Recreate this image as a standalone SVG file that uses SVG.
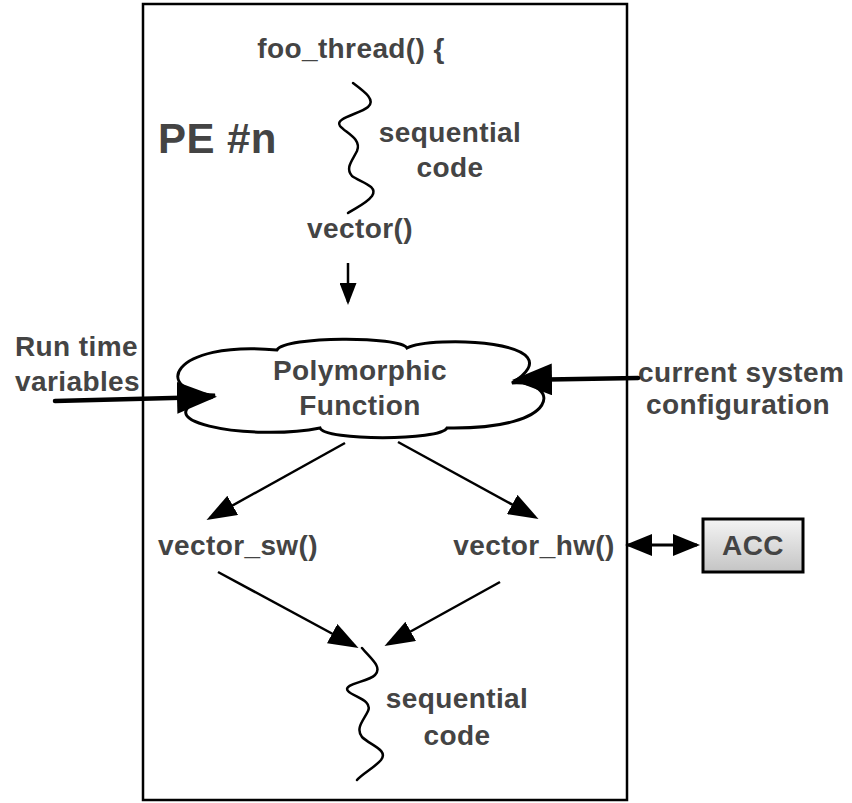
<svg xmlns="http://www.w3.org/2000/svg" width="852" height="803" viewBox="0 0 852 803">
  <style>
    .t { font-family: "Liberation Sans", Arial, Helvetica, sans-serif; font-weight: bold; font-size: 28px; fill: #444; letter-spacing: 0.4px; }
    .m { text-anchor: middle; }
    .line { fill: none; stroke: #000; stroke-width: 2.5; }
    .thick { fill: none; stroke: #000; stroke-width: 4.5; stroke-linecap: round; }
    .sq { fill: none; stroke: #000; stroke-width: 2.5; stroke-linecap: round; }
  </style>
  <defs>
    <marker id="ah" viewBox="0 0 30 22" refX="26" refY="11" markerWidth="30" markerHeight="22" markerUnits="userSpaceOnUse" orient="auto">
      <path d="M0,0 L30,11 L0,22 z" fill="#000"/>
    </marker>
    <marker id="ahBig" viewBox="0 0 40 32" refX="34" refY="16" markerWidth="40" markerHeight="32" markerUnits="userSpaceOnUse" orient="auto">
      <path d="M0,0 L40,16 L0,32 z" fill="#000"/>
    </marker>
    <marker id="ahSmall" viewBox="0 0 22 17" refX="19" refY="8.5" markerWidth="22" markerHeight="17" markerUnits="userSpaceOnUse" orient="auto">
      <path d="M0,0 L22,8.5 L0,17 z" fill="#000"/>
    </marker>
    <marker id="ahD" viewBox="0 0 27 22" refX="24" refY="11" markerWidth="27" markerHeight="22" markerUnits="userSpaceOnUse" orient="auto-start-reverse">
      <path d="M0,0 L27,11 L0,22 z" fill="#000"/>
    </marker>
    <linearGradient id="accFill" x1="0" y1="0" x2="0" y2="1">
      <stop offset="0" stop-color="#f4f4f4"/>
      <stop offset="1" stop-color="#c4c4c4"/>
    </linearGradient>
  </defs>

  <g id="pe">
    <rect x="143" y="4" width="484" height="796" fill="#fff" stroke="#000" stroke-width="2.5"/>
    <text class="t" x="158" y="153" style="font-size:42px">PE #n</text>
  </g>

  <g id="foo-thread">
    <text class="t m" x="351" y="58">foo_thread() {</text>
  </g>

  <g id="seq-code-1">
    <path class="sq" d="M353,83 C365,92 376,100 368,107 C360,114 334,118 340,126 C346,133 362,139 357,151 C352,161 345,168 352,176 C360,182 379,186 372,196 C366,204 355,208 348,213"/>
    <text class="t m" x="450" y="142">sequential</text>
    <text class="t m" x="450" y="177">code</text>
  </g>

  <g id="vector">
    <text class="t m" x="360" y="238">vector()</text>
  </g>

  <g id="runtime-vars">
    <text class="t" x="15" y="356">Run time</text>
    <text class="t" x="15" y="391">variables</text>
  </g>

  <g id="poly">
    <path d="M215,395 C150,392 170,340 277,350 C285,336 400,336 407,348 C430,335 580,340 512,383 C560,380 565,430 447,428 C440,441 325,441 320,428 C250,442 130,420 215,395 Z" fill="#fff" stroke="#000" stroke-width="3"/>
    <text class="t m" x="360" y="380">Polymorphic</text>
    <text class="t m" x="360" y="415">Function</text>
  </g>

  <g id="sys-config">
    <text class="t" x="638" y="382">current system</text>
    <text class="t m" x="738" y="414">configuration</text>
  </g>

  <g id="vector-sw">
    <text class="t m" x="238" y="555">vector_sw()</text>
  </g>

  <g id="vector-hw">
    <text class="t m" x="534" y="555">vector_hw()</text>
  </g>

  <g id="acc">
    <rect x="703" y="519" width="100" height="53" fill="url(#accFill)" stroke="#000" stroke-width="3"/>
    <text class="t m" x="753" y="555">ACC</text>
  </g>

  <g id="seq-code-2">
    <path class="sq" d="M362,648 C370,658 383,667 375,675 C368,682 342,684 348,691 C353,697 373,700 368,711 C364,720 355,728 362,737 C370,745 389,750 381,760 C374,768 362,774 357,780"/>
    <text class="t m" x="457" y="708">sequential</text>
    <text class="t m" x="457" y="745">code</text>
  </g>

  <g id="connectors">
    <line class="line" x1="348" y1="263" x2="348" y2="302" marker-end="url(#ahSmall)"/>
    <line class="thick" x1="55" y1="401" x2="211" y2="397" marker-end="url(#ahBig)"/>
    <line class="thick" x1="638" y1="378" x2="518" y2="380" marker-end="url(#ahBig)"/>
    <line class="line" x1="345" y1="443" x2="210" y2="518" marker-end="url(#ah)"/>
    <line class="line" x1="398" y1="442" x2="535" y2="517" marker-end="url(#ah)"/>
    <line class="line" x1="218" y1="572" x2="355" y2="646" marker-end="url(#ah)"/>
    <line class="line" x1="500" y1="582" x2="388" y2="644" marker-end="url(#ah)"/>
    <line x1="628" y1="545" x2="697" y2="545" stroke="#000" stroke-width="3" marker-start="url(#ahD)" marker-end="url(#ahD)"/>
  </g>
</svg>
